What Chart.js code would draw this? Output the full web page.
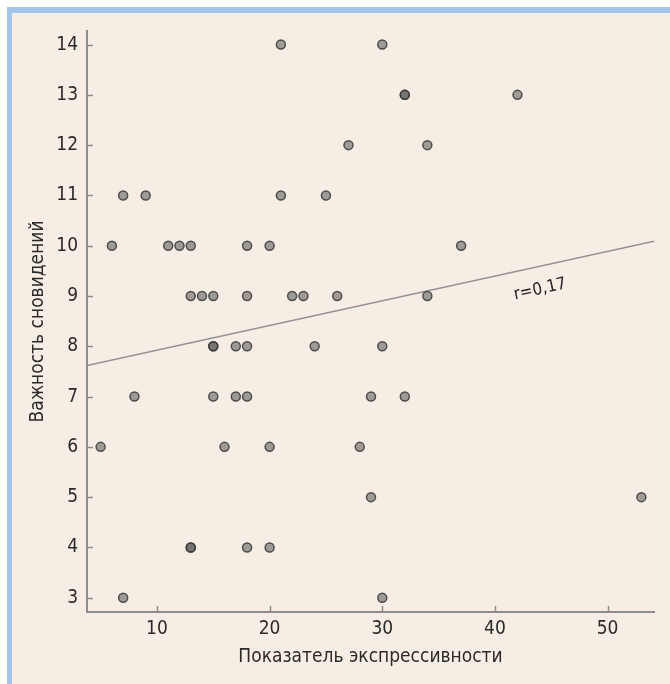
<!DOCTYPE html>
<html lang="ru">
<head>
    <meta charset="UTF-8">
    <title>Важность сновидений</title>
    <script src="https://cdn.jsdelivr.net/npm/chart.js"></script>
    <style>
        html, body {
            margin: 0;
            padding: 0;
            background: #fff;
            width: 670px;
            height: 684px;
            overflow: hidden;
        }
        .frame {
            position: absolute;
            left: 7px;
            top: 7px;
            width: 658px;
            height: 671px;
            background: #f6eee5;
            border-top: 6px solid #a3c5e9;
            border-left: 5px solid #a3c5e9;
        }
        canvas {
            position: absolute;
            left: 0;
            top: 0;
        }
    </style>
</head>
<body>
    <div class="frame"></div>
    <canvas id="chart" width="670" height="684"></canvas>

    <script>
        // Показатель экспрессивности (x) и важность сновидений (y), по точке на пару
        const expressiveness = [
            21, 30,
            32, 32, 42,
            27, 34,
            7, 9, 21, 25,
            6, 11, 12, 13, 18, 20, 37,
            13, 14, 15, 18, 22, 23, 26, 34,
            15, 15, 17, 18, 24, 30,
            8, 15, 17, 18, 29, 32,
            5, 16, 20, 28,
            29, 53,
            13, 13, 18, 20,
            7, 30
        ];
        const importance = [
            14, 14,
            13, 13, 13,
            12, 12,
            11, 11, 11, 11,
            10, 10, 10, 10, 10, 10, 10,
            9, 9, 9, 9, 9, 9, 9, 9,
            8, 8, 8, 8, 8, 8,
            7, 7, 7, 7, 7, 7,
            6, 6, 6, 6,
            5, 5,
            4, 4, 4, 4,
            3, 3
        ];

        // линия регрессии: концы на краях осей
        const trendX = [3.79, 54.12];
        const trendY = [7.62, 10.09];
        const trendLabel = 'r=0,17';
        const trendLabelAt = { x: 44.0, y: 9.13 };

        const xTicks = [10, 20, 30, 40, 50];
        const yTicks = [3, 4, 5, 6, 7, 8, 9, 10, 11, 12, 13, 14];

        const FONT = "'Liberation Sans Narrow', 'DejaVu Sans Condensed', 'Roboto Condensed', sans-serif";
        const AXIS_COLOR = '#8c8c8c';

        const points = expressiveness.map((x, i) => ({ x: x, y: importance[i] }));
        const trend = trendX.map((x, i) => ({ x: x, y: trendY[i] }));

        // тики внутрь области графика
        const innerTicks = {
            id: 'innerTicks',
            afterDraw(chart) {
                const { ctx, scales: { x, y } } = chart;
                ctx.save();
                ctx.strokeStyle = AXIS_COLOR;
                ctx.lineWidth = 1.5;
                ctx.beginPath();
                xTicks.forEach(v => {
                    const px = Math.round(x.getPixelForValue(v)) + 0.5;
                    ctx.moveTo(px, y.bottom);
                    ctx.lineTo(px, y.bottom - 6);
                });
                yTicks.forEach(v => {
                    const py = Math.round(y.getPixelForValue(v)) + 0.5;
                    ctx.moveTo(x.left, py);
                    ctx.lineTo(x.left + 6, py);
                });
                ctx.stroke();
                ctx.restore();
            }
        };

        // подпись коэффициента корреляции вдоль линии
        const trendText = {
            id: 'trendText',
            afterDatasetsDraw(chart) {
                const { ctx, scales: { x, y } } = chart;
                const x0 = x.getPixelForValue(trendX[0]), y0 = y.getPixelForValue(trendY[0]);
                const x1 = x.getPixelForValue(trendX[1]), y1 = y.getPixelForValue(trendY[1]);
                const angle = Math.atan2(y1 - y0, x1 - x0);
                ctx.save();
                ctx.translate(x.getPixelForValue(trendLabelAt.x), y.getPixelForValue(trendLabelAt.y));
                ctx.rotate(angle);
                ctx.fillStyle = '#222';
                ctx.font = '17px ' + FONT;
                ctx.textAlign = 'center';
                ctx.textBaseline = 'middle';
                ctx.fillText(trendLabel, 0, 0);
                ctx.restore();
            }
        };

        new Chart(document.getElementById('chart'), {
            type: 'scatter',
            data: {
                datasets: [
                    {
                        label: 'линия',
                        data: trend,
                        showLine: true,
                        borderColor: '#929292',
                        borderWidth: 1.5,
                        pointRadius: 0,
                        order: 2
                    },
                    {
                        label: 'испытуемые',
                        data: points,
                        backgroundColor: 'rgba(85, 85, 85, 0.55)',
                        borderColor: 'rgba(55, 55, 55, 0.85)',
                        borderWidth: 1.5,
                        pointRadius: 4.5,
                        order: 1
                    }
                ]
            },
            options: {
                responsive: false,
                animation: false,
                layout: { padding: { left: 0, top: 31, right: 16, bottom: 0 } },
                plugins: {
                    legend: { display: false },
                    tooltip: { enabled: false }
                },
                scales: {
                    x: {
                        type: 'linear',
                        min: 3.79,
                        max: 54.12,
                        afterBuildTicks: s => { s.ticks = xTicks.map(v => ({ value: v })); },
                        afterFit: s => { s.height = 72; },
                        grid: { display: true, drawOnChartArea: false, drawTicks: false },
                        border: { display: true, color: AXIS_COLOR, width: 2 },
                        ticks: {
                            padding: 6,
                            color: '#2a2a2a',
                            font: { family: FONT, size: 19 }
                        },
                        title: {
                            display: true,
                            text: 'Показатель экспрессивности',
                            color: '#2a2a2a',
                            font: { family: FONT, size: 19 },
                            padding: { top: 0, bottom: 16 }
                        }
                    },
                    y: {
                        type: 'linear',
                        min: 2.716,
                        max: 14.27,
                        afterBuildTicks: s => { s.ticks = yTicks.map(v => ({ value: v })); },
                        afterFit: s => { s.width = 87; },
                        grid: { display: true, drawOnChartArea: false, drawTicks: false },
                        border: { display: true, color: AXIS_COLOR, width: 2 },
                        ticks: {
                            padding: 9,
                            color: '#2a2a2a',
                            font: { family: FONT, size: 19 }
                        },
                        title: {
                            display: true,
                            text: 'Важность сновидений',
                            color: '#2a2a2a',
                            font: { family: FONT, size: 19 },
                            padding: { top: 27, bottom: 0 }
                        }
                    }
                }
            },
            plugins: [innerTicks, trendText]
        });
    </script>
</body>
</html>
